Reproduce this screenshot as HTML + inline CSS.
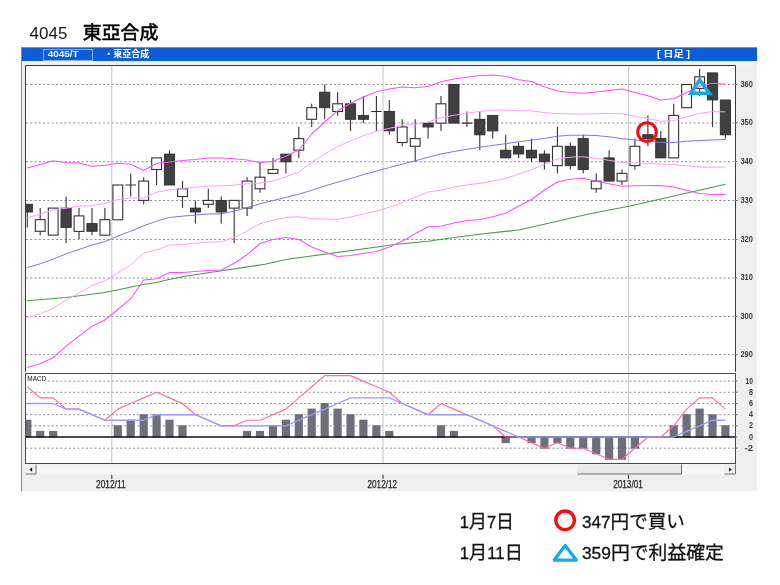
<!DOCTYPE html>
<html lang="ja"><head><meta charset="utf-8"><title>4045 東亞合成</title>
<style>html,body{margin:0;padding:0;background:#fff}body{width:780px;height:585px;position:relative;overflow:hidden}</style></head>
<body>
<svg width="780" height="585" viewBox="0 0 780 585" style="position:absolute;left:0;top:0">
<rect x="21" y="47" width="736" height="444.4" fill="#efefef"/>
<rect x="21" y="47" width="736" height="1" fill="#8a8a8a"/>
<rect x="21" y="47" width="1" height="444.4" fill="#8a8a8a"/>
<rect x="22" y="48" width="735" height="13" fill="#0b5ed7"/>
<rect x="22" y="61" width="735" height="3.6" fill="#f5f5f5"/>
<rect x="43.5" y="49.5" width="49" height="11" fill="none" stroke="#86b0ef" stroke-width="1"/>
<rect x="25" y="65" width="711" height="308" fill="#fff"/>
<path d="M25.5 371.8 V65.5 H735.5 V371.8" fill="none" stroke="#3a3a3a" stroke-width="1"/>
<rect x="25.5" y="373.5" width="710" height="90" fill="#fff" stroke="#4a4a4a" stroke-width="1"/>
<line x1="26" x2="735" y1="354.6" y2="354.6" stroke="#909090" stroke-width="1" stroke-dasharray="2.05 2.23"/>
<line x1="735" x2="737.6" y1="354.6" y2="354.6" stroke="#6a6a6a" stroke-width="1"/>
<line x1="26" x2="735" y1="316.5" y2="316.5" stroke="#909090" stroke-width="1" stroke-dasharray="2.05 2.23"/>
<line x1="735" x2="737.6" y1="316.5" y2="316.5" stroke="#6a6a6a" stroke-width="1"/>
<line x1="26" x2="735" y1="278.0" y2="278.0" stroke="#909090" stroke-width="1" stroke-dasharray="2.05 2.23"/>
<line x1="735" x2="737.6" y1="278.0" y2="278.0" stroke="#6a6a6a" stroke-width="1"/>
<line x1="26" x2="735" y1="239.5" y2="239.5" stroke="#909090" stroke-width="1" stroke-dasharray="2.05 2.23"/>
<line x1="735" x2="737.6" y1="239.5" y2="239.5" stroke="#6a6a6a" stroke-width="1"/>
<line x1="26" x2="735" y1="200.5" y2="200.5" stroke="#909090" stroke-width="1" stroke-dasharray="2.05 2.23"/>
<line x1="735" x2="737.6" y1="200.5" y2="200.5" stroke="#6a6a6a" stroke-width="1"/>
<line x1="26" x2="735" y1="161.7" y2="161.7" stroke="#909090" stroke-width="1" stroke-dasharray="2.05 2.23"/>
<line x1="735" x2="737.6" y1="161.7" y2="161.7" stroke="#6a6a6a" stroke-width="1"/>
<line x1="26" x2="735" y1="123.0" y2="123.0" stroke="#909090" stroke-width="1" stroke-dasharray="2.05 2.23"/>
<line x1="735" x2="737.6" y1="123.0" y2="123.0" stroke="#6a6a6a" stroke-width="1"/>
<line x1="26" x2="735" y1="84.5" y2="84.5" stroke="#909090" stroke-width="1" stroke-dasharray="2.05 2.23"/>
<line x1="735" x2="737.6" y1="84.5" y2="84.5" stroke="#6a6a6a" stroke-width="1"/>
<line x1="47.5" x2="735" y1="381.1" y2="381.1" stroke="#909090" stroke-width="1" stroke-dasharray="2.05 2.23"/>
<line x1="26" x2="735" y1="392.3" y2="392.3" stroke="#909090" stroke-width="1" stroke-dasharray="2.05 2.23"/>
<line x1="26" x2="735" y1="403.5" y2="403.5" stroke="#909090" stroke-width="1" stroke-dasharray="2.05 2.23"/>
<line x1="26" x2="735" y1="414.7" y2="414.7" stroke="#909090" stroke-width="1" stroke-dasharray="2.05 2.23"/>
<line x1="26" x2="735" y1="425.8" y2="425.8" stroke="#909090" stroke-width="1" stroke-dasharray="2.05 2.23"/>
<line x1="26" x2="735" y1="448.2" y2="448.2" stroke="#909090" stroke-width="1" stroke-dasharray="2.05 2.23"/>
<line x1="735" x2="737.6" y1="381.1" y2="381.1" stroke="#6a6a6a" stroke-width="1"/>
<line x1="735" x2="737.6" y1="392.3" y2="392.3" stroke="#6a6a6a" stroke-width="1"/>
<line x1="735" x2="737.6" y1="403.5" y2="403.5" stroke="#6a6a6a" stroke-width="1"/>
<line x1="735" x2="737.6" y1="414.7" y2="414.7" stroke="#6a6a6a" stroke-width="1"/>
<line x1="735" x2="737.6" y1="425.8" y2="425.8" stroke="#6a6a6a" stroke-width="1"/>
<line x1="735" x2="737.6" y1="437.0" y2="437.0" stroke="#6a6a6a" stroke-width="1"/>
<line x1="735" x2="737.6" y1="448.2" y2="448.2" stroke="#6a6a6a" stroke-width="1"/>
<line x1="111.8" x2="111.8" y1="66" y2="372" stroke="#c4c4c4" stroke-width="1"/>
<line x1="111.8" x2="111.8" y1="374" y2="463" stroke="#c4c4c4" stroke-width="1"/>
<line x1="111.8" x2="111.8" y1="474.6" y2="478.8" stroke="#222" stroke-width="1"/>
<line x1="383" x2="383" y1="66" y2="372" stroke="#c4c4c4" stroke-width="1"/>
<line x1="383" x2="383" y1="374" y2="463" stroke="#c4c4c4" stroke-width="1"/>
<line x1="383" x2="383" y1="474.6" y2="478.8" stroke="#222" stroke-width="1"/>
<line x1="628.6" x2="628.6" y1="66" y2="372" stroke="#c4c4c4" stroke-width="1"/>
<line x1="628.6" x2="628.6" y1="374" y2="463" stroke="#c4c4c4" stroke-width="1"/>
<line x1="628.6" x2="628.6" y1="474.6" y2="478.8" stroke="#222" stroke-width="1"/>
<g clip-path="url(#cm)">
<defs><clipPath id="cm"><rect x="26" y="66" width="709" height="304.5"/></clipPath></defs>
<line x1="27.3" x2="27.3" y1="204.3" y2="227.5" stroke="#333" stroke-width="1.1"/>
<rect x="22.2" y="204.3" width="10.2" height="7.7" fill="#404040" stroke="#2c2c2c" stroke-width="0.9"/>
<line x1="40.2" x2="40.2" y1="208.1" y2="235.2" stroke="#333" stroke-width="1.1"/>
<rect x="35.3" y="219.7" width="9.8" height="11.6" fill="#fff" stroke="#333" stroke-width="1.1"/>
<line x1="53.2" x2="53.2" y1="208.1" y2="235.2" stroke="#333" stroke-width="1.1"/>
<rect x="48.3" y="208.1" width="9.8" height="27.0" fill="#fff" stroke="#333" stroke-width="1.1"/>
<line x1="66.1" x2="66.1" y1="196.6" y2="242.9" stroke="#333" stroke-width="1.1"/>
<rect x="61.0" y="208.1" width="10.2" height="19.3" fill="#404040" stroke="#2c2c2c" stroke-width="0.9"/>
<line x1="79.0" x2="79.0" y1="208.1" y2="239.1" stroke="#333" stroke-width="1.1"/>
<rect x="74.1" y="215.9" width="9.8" height="15.5" fill="#fff" stroke="#333" stroke-width="1.1"/>
<line x1="92.0" x2="92.0" y1="208.1" y2="235.2" stroke="#333" stroke-width="1.1"/>
<rect x="86.9" y="223.6" width="10.2" height="7.7" fill="#404040" stroke="#2c2c2c" stroke-width="0.9"/>
<line x1="104.9" x2="104.9" y1="208.1" y2="235.2" stroke="#333" stroke-width="1.1"/>
<rect x="100.0" y="219.7" width="9.8" height="15.5" fill="#fff" stroke="#333" stroke-width="1.1"/>
<line x1="117.8" x2="117.8" y1="185.0" y2="219.7" stroke="#333" stroke-width="1.1"/>
<rect x="112.9" y="185.0" width="9.8" height="34.8" fill="#fff" stroke="#333" stroke-width="1.1"/>
<line x1="130.7" x2="130.7" y1="173.4" y2="196.6" stroke="#333" stroke-width="1.1"/>
<line x1="125.4" x2="136.0" y1="185.0" y2="185.0" stroke="#333" stroke-width="1.1"/>
<line x1="143.7" x2="143.7" y1="177.2" y2="204.3" stroke="#333" stroke-width="1.1"/>
<rect x="138.8" y="181.1" width="9.8" height="19.3" fill="#fff" stroke="#333" stroke-width="1.1"/>
<line x1="156.6" x2="156.6" y1="157.9" y2="185.0" stroke="#333" stroke-width="1.1"/>
<rect x="151.7" y="157.9" width="9.8" height="11.6" fill="#fff" stroke="#333" stroke-width="1.1"/>
<line x1="169.5" x2="169.5" y1="150.2" y2="185.0" stroke="#333" stroke-width="1.1"/>
<rect x="164.4" y="154.1" width="10.2" height="30.9" fill="#404040" stroke="#2c2c2c" stroke-width="0.9"/>
<line x1="182.5" x2="182.5" y1="181.1" y2="208.1" stroke="#333" stroke-width="1.1"/>
<rect x="177.6" y="188.8" width="9.8" height="7.7" fill="#fff" stroke="#333" stroke-width="1.1"/>
<line x1="195.4" x2="195.4" y1="200.4" y2="223.6" stroke="#333" stroke-width="1.1"/>
<rect x="190.3" y="208.1" width="10.2" height="3.9" fill="#404040" stroke="#2c2c2c" stroke-width="0.9"/>
<line x1="208.3" x2="208.3" y1="188.8" y2="208.1" stroke="#333" stroke-width="1.1"/>
<rect x="203.4" y="200.4" width="9.8" height="3.9" fill="#fff" stroke="#333" stroke-width="1.1"/>
<line x1="221.2" x2="221.2" y1="196.6" y2="223.6" stroke="#333" stroke-width="1.1"/>
<rect x="216.1" y="200.4" width="10.2" height="11.6" fill="#404040" stroke="#2c2c2c" stroke-width="0.9"/>
<line x1="234.2" x2="234.2" y1="200.4" y2="242.9" stroke="#333" stroke-width="1.1"/>
<rect x="229.3" y="200.4" width="9.8" height="7.7" fill="#fff" stroke="#333" stroke-width="1.1"/>
<line x1="247.1" x2="247.1" y1="177.2" y2="215.9" stroke="#333" stroke-width="1.1"/>
<rect x="242.2" y="181.1" width="9.8" height="27.0" fill="#fff" stroke="#333" stroke-width="1.1"/>
<line x1="260.0" x2="260.0" y1="161.8" y2="192.7" stroke="#333" stroke-width="1.1"/>
<rect x="255.1" y="177.2" width="9.8" height="11.6" fill="#fff" stroke="#333" stroke-width="1.1"/>
<line x1="273.0" x2="273.0" y1="157.9" y2="173.4" stroke="#333" stroke-width="1.1"/>
<rect x="268.1" y="169.5" width="9.8" height="3.9" fill="#fff" stroke="#333" stroke-width="1.1"/>
<line x1="285.9" x2="285.9" y1="154.1" y2="173.4" stroke="#333" stroke-width="1.1"/>
<rect x="280.8" y="154.1" width="10.2" height="7.7" fill="#404040" stroke="#2c2c2c" stroke-width="0.9"/>
<line x1="298.8" x2="298.8" y1="127.0" y2="157.9" stroke="#333" stroke-width="1.1"/>
<rect x="293.9" y="138.6" width="9.8" height="11.6" fill="#fff" stroke="#333" stroke-width="1.1"/>
<line x1="311.7" x2="311.7" y1="103.8" y2="127.0" stroke="#333" stroke-width="1.1"/>
<rect x="306.8" y="107.7" width="9.8" height="11.6" fill="#fff" stroke="#333" stroke-width="1.1"/>
<line x1="324.7" x2="324.7" y1="84.5" y2="119.3" stroke="#333" stroke-width="1.1"/>
<rect x="319.6" y="92.2" width="10.2" height="15.5" fill="#404040" stroke="#2c2c2c" stroke-width="0.9"/>
<line x1="337.6" x2="337.6" y1="92.2" y2="115.4" stroke="#333" stroke-width="1.1"/>
<rect x="332.7" y="103.8" width="9.8" height="7.7" fill="#fff" stroke="#333" stroke-width="1.1"/>
<line x1="350.5" x2="350.5" y1="100.0" y2="130.9" stroke="#333" stroke-width="1.1"/>
<rect x="345.4" y="103.8" width="10.2" height="15.5" fill="#404040" stroke="#2c2c2c" stroke-width="0.9"/>
<line x1="363.4" x2="363.4" y1="96.1" y2="123.1" stroke="#333" stroke-width="1.1"/>
<rect x="358.3" y="115.4" width="10.2" height="3.9" fill="#404040" stroke="#2c2c2c" stroke-width="0.9"/>
<line x1="376.4" x2="376.4" y1="96.1" y2="130.9" stroke="#333" stroke-width="1.1"/>
<line x1="371.1" x2="381.7" y1="111.5" y2="111.5" stroke="#333" stroke-width="1.1"/>
<line x1="389.3" x2="389.3" y1="100.0" y2="134.7" stroke="#333" stroke-width="1.1"/>
<rect x="384.2" y="111.5" width="10.2" height="19.3" fill="#404040" stroke="#2c2c2c" stroke-width="0.9"/>
<line x1="402.2" x2="402.2" y1="119.3" y2="146.3" stroke="#333" stroke-width="1.1"/>
<rect x="397.3" y="127.0" width="9.8" height="15.5" fill="#fff" stroke="#333" stroke-width="1.1"/>
<line x1="415.2" x2="415.2" y1="119.3" y2="161.8" stroke="#333" stroke-width="1.1"/>
<rect x="410.3" y="138.6" width="9.8" height="7.7" fill="#fff" stroke="#333" stroke-width="1.1"/>
<line x1="428.1" x2="428.1" y1="123.1" y2="138.6" stroke="#333" stroke-width="1.1"/>
<rect x="423.0" y="123.1" width="10.2" height="3.9" fill="#404040" stroke="#2c2c2c" stroke-width="0.9"/>
<line x1="441.0" x2="441.0" y1="96.1" y2="130.9" stroke="#333" stroke-width="1.1"/>
<rect x="436.1" y="103.8" width="9.8" height="19.3" fill="#fff" stroke="#333" stroke-width="1.1"/>
<line x1="453.9" x2="453.9" y1="84.5" y2="123.1" stroke="#333" stroke-width="1.1"/>
<rect x="448.8" y="84.5" width="10.2" height="38.6" fill="#404040" stroke="#2c2c2c" stroke-width="0.9"/>
<line x1="466.9" x2="466.9" y1="111.5" y2="127.0" stroke="#333" stroke-width="1.1"/>
<line x1="461.6" x2="472.2" y1="123.1" y2="123.1" stroke="#333" stroke-width="1.1"/>
<line x1="479.8" x2="479.8" y1="111.5" y2="150.2" stroke="#333" stroke-width="1.1"/>
<rect x="474.7" y="119.3" width="10.2" height="15.5" fill="#404040" stroke="#2c2c2c" stroke-width="0.9"/>
<line x1="492.7" x2="492.7" y1="115.4" y2="138.6" stroke="#333" stroke-width="1.1"/>
<rect x="487.6" y="115.4" width="10.2" height="15.5" fill="#404040" stroke="#2c2c2c" stroke-width="0.9"/>
<line x1="505.7" x2="505.7" y1="134.7" y2="157.9" stroke="#333" stroke-width="1.1"/>
<rect x="500.6" y="150.2" width="10.2" height="7.7" fill="#404040" stroke="#2c2c2c" stroke-width="0.9"/>
<line x1="518.6" x2="518.6" y1="142.5" y2="157.9" stroke="#333" stroke-width="1.1"/>
<rect x="513.5" y="146.3" width="10.2" height="7.7" fill="#404040" stroke="#2c2c2c" stroke-width="0.9"/>
<line x1="531.5" x2="531.5" y1="138.6" y2="161.8" stroke="#333" stroke-width="1.1"/>
<rect x="526.4" y="150.2" width="10.2" height="7.7" fill="#404040" stroke="#2c2c2c" stroke-width="0.9"/>
<line x1="544.4" x2="544.4" y1="150.2" y2="169.5" stroke="#333" stroke-width="1.1"/>
<rect x="539.3" y="154.1" width="10.2" height="7.7" fill="#404040" stroke="#2c2c2c" stroke-width="0.9"/>
<line x1="557.4" x2="557.4" y1="127.0" y2="173.4" stroke="#333" stroke-width="1.1"/>
<rect x="552.5" y="146.3" width="9.8" height="19.3" fill="#fff" stroke="#333" stroke-width="1.1"/>
<line x1="570.3" x2="570.3" y1="142.5" y2="169.5" stroke="#333" stroke-width="1.1"/>
<rect x="565.2" y="146.3" width="10.2" height="19.3" fill="#404040" stroke="#2c2c2c" stroke-width="0.9"/>
<line x1="583.2" x2="583.2" y1="134.7" y2="173.4" stroke="#333" stroke-width="1.1"/>
<rect x="578.1" y="138.6" width="10.2" height="30.9" fill="#404040" stroke="#2c2c2c" stroke-width="0.9"/>
<line x1="596.2" x2="596.2" y1="173.4" y2="192.7" stroke="#333" stroke-width="1.1"/>
<rect x="591.3" y="181.1" width="9.8" height="7.7" fill="#fff" stroke="#333" stroke-width="1.1"/>
<line x1="609.1" x2="609.1" y1="150.2" y2="181.1" stroke="#333" stroke-width="1.1"/>
<rect x="604.0" y="157.9" width="10.2" height="23.2" fill="#404040" stroke="#2c2c2c" stroke-width="0.9"/>
<line x1="622.0" x2="622.0" y1="169.5" y2="185.0" stroke="#333" stroke-width="1.1"/>
<rect x="617.1" y="173.4" width="9.8" height="7.7" fill="#fff" stroke="#333" stroke-width="1.1"/>
<line x1="634.9" x2="634.9" y1="138.6" y2="169.5" stroke="#333" stroke-width="1.1"/>
<rect x="630.0" y="146.3" width="9.8" height="19.3" fill="#fff" stroke="#333" stroke-width="1.1"/>
<line x1="647.9" x2="647.9" y1="115.4" y2="146.3" stroke="#333" stroke-width="1.1"/>
<rect x="642.8" y="134.7" width="10.2" height="3.9" fill="#404040" stroke="#2c2c2c" stroke-width="0.9"/>
<line x1="660.8" x2="660.8" y1="130.9" y2="157.9" stroke="#333" stroke-width="1.1"/>
<rect x="655.7" y="138.6" width="10.2" height="19.3" fill="#404040" stroke="#2c2c2c" stroke-width="0.9"/>
<line x1="673.7" x2="673.7" y1="103.8" y2="157.9" stroke="#333" stroke-width="1.1"/>
<rect x="668.8" y="115.4" width="9.8" height="42.5" fill="#fff" stroke="#333" stroke-width="1.1"/>
<line x1="686.6" x2="686.6" y1="84.5" y2="107.7" stroke="#333" stroke-width="1.1"/>
<rect x="681.7" y="84.5" width="9.8" height="23.2" fill="#fff" stroke="#333" stroke-width="1.1"/>
<line x1="699.6" x2="699.6" y1="69.0" y2="96.1" stroke="#333" stroke-width="1.1"/>
<rect x="694.7" y="76.8" width="9.8" height="11.6" fill="#fff" stroke="#333" stroke-width="1.1"/>
<line x1="712.5" x2="712.5" y1="72.9" y2="127.0" stroke="#333" stroke-width="1.1"/>
<rect x="707.4" y="72.9" width="10.2" height="27.0" fill="#404040" stroke="#2c2c2c" stroke-width="0.9"/>
<line x1="725.4" x2="725.4" y1="100.0" y2="138.6" stroke="#333" stroke-width="1.1"/>
<rect x="720.3" y="100.0" width="10.2" height="34.8" fill="#404040" stroke="#2c2c2c" stroke-width="0.9"/>
</g>
<polyline points="27.0,300.8 66.0,297.5 105.0,292.5 143.5,284.5 156.5,282.5 169.0,279.5 182.0,276.8 208.0,272.7 265.0,264.3 287.5,259.3 395.0,244.5 428.0,241.2 453.8,237.5 479.5,234.2 518.5,230.0 544.2,224.2 570.0,218.2 590.0,213.8 630.0,206.0 725.5,184.2" fill="none" stroke="#479d47" stroke-width="1.15" stroke-linejoin="round" />
<polyline points="27.3,217.8 40.2,214.2 53.2,210.0 66.1,208.2 79.0,206.2 92.0,205.7 104.9,203.5 117.8,199.6 130.7,197.8 143.7,198.1 156.6,192.2 169.5,189.8 182.5,188.4 195.4,187.2 208.3,186.0 221.2,185.9 234.2,185.0 247.1,183.8 260.0,183.2 273.0,180.9 285.9,176.8 298.8,172.1 311.7,162.2 324.7,154.0 337.6,146.5 350.5,141.0 363.4,135.8 376.4,131.3 389.3,128.3 402.2,125.6 415.2,124.3 428.1,121.9 441.0,117.8 453.9,115.3 466.9,113.2 479.8,111.4 492.7,110.2 505.7,110.0 518.6,110.8 531.5,110.8 544.4,112.6 557.4,113.6 570.3,113.9 583.2,114.2 596.2,113.7 609.1,113.6 622.0,113.8 634.9,116.2 647.9,118.5 660.8,121.2 673.7,120.6 686.6,116.9 699.6,113.4 712.5,111.6 725.4,111.9" fill="none" stroke="#ff9cff" stroke-width="1.0" stroke-linejoin="round" />
<polyline points="27.3,317.5 40.2,313.8 53.2,308.4 66.1,300.0 79.0,292.9 92.0,285.6 104.9,280.9 117.8,272.8 130.7,265.0 143.7,252.9 156.6,250.0 169.5,245.0 182.5,244.4 195.4,243.2 208.3,242.2 221.2,241.9 234.2,237.3 247.1,231.1 260.0,223.7 273.0,220.1 285.9,217.4 298.8,216.8 311.7,218.7 324.7,219.0 337.6,219.3 350.5,217.0 363.4,214.1 376.4,211.2 389.3,207.3 402.2,202.7 415.2,197.3 428.1,192.0 441.0,190.1 453.9,187.2 466.9,184.9 479.8,183.4 492.7,181.1 505.7,178.5 518.6,174.0 531.5,169.8 544.4,164.2 557.4,159.1 570.3,157.2 583.2,156.8 596.2,158.4 609.1,160.3 622.0,162.5 634.9,162.9 647.9,163.4 660.8,164.1 673.7,164.7 686.6,165.8 699.6,167.1 712.5,167.2 725.4,167.0" fill="none" stroke="#ff9cff" stroke-width="1.0" stroke-linejoin="round" />
<polyline points="27.3,168.0 40.2,164.5 53.2,160.8 66.1,162.5 79.0,163.0 92.0,166.3 104.9,165.3 117.8,163.2 130.7,164.2 143.7,170.5 156.6,163.2 169.5,162.0 182.5,160.5 195.4,159.5 208.3,158.0 221.2,158.0 234.2,158.8 247.1,160.0 260.0,162.5 273.0,161.2 285.9,156.2 298.8,150.0 311.7,134.0 324.7,122.0 337.6,110.8 350.5,103.5 363.4,97.0 376.4,91.7 389.3,89.1 402.2,87.0 415.2,87.8 428.1,86.6 441.0,81.7 453.9,79.1 466.9,77.2 479.8,75.5 492.7,75.0 505.7,76.3 518.6,79.7 531.5,81.4 544.4,86.8 557.4,91.0 570.3,92.6 583.2,93.2 596.2,91.9 609.1,90.4 622.0,89.0 634.9,92.5 647.9,95.8 660.8,100.0 673.7,98.8 686.6,92.5 699.6,86.2 712.5,83.2 725.4,84.2" fill="none" stroke="#ff4cff" stroke-width="1.05" stroke-linejoin="round" />
<polyline points="27.3,367.5 40.2,363.8 53.2,357.5 66.1,346.2 79.0,336.2 92.0,326.2 104.9,320.0 117.8,309.5 130.7,298.8 143.7,280.0 156.6,278.8 169.5,272.5 182.5,272.5 195.4,271.5 208.3,270.5 221.2,270.0 234.2,263.3 247.1,254.7 260.0,243.5 273.0,239.5 285.9,237.5 298.8,239.5 311.7,247.0 324.7,252.0 337.6,256.5 350.5,255.5 363.4,253.5 376.4,251.5 389.3,247.0 402.2,241.2 415.2,233.8 428.1,226.8 441.0,226.2 453.9,223.0 466.9,220.5 479.8,219.5 492.7,216.8 505.7,213.2 518.6,206.2 531.5,199.5 544.4,190.0 557.4,182.0 570.3,179.2 583.2,178.2 596.2,181.2 609.1,183.8 622.0,186.2 634.9,185.8 647.9,185.6 660.8,185.6 673.7,186.9 686.6,190.3 699.6,193.6 712.5,194.5 725.4,194.5" fill="none" stroke="#ff4cff" stroke-width="1.05" stroke-linejoin="round" />
<polyline points="27.3,267.5 40.2,263.8 53.2,259.2 66.1,253.8 79.0,249.5 92.0,245.0 104.9,241.7 117.8,236.0 130.7,231.2 143.7,225.8 156.6,221.2 169.5,217.5 182.5,216.2 195.4,215.0 208.3,214.0 221.2,213.8 234.2,211.2 247.1,207.5 260.0,203.8 273.0,200.6 285.9,197.4 298.8,194.2 311.7,190.3 324.7,186.0 337.6,182.2 350.5,178.5 363.4,174.6 376.4,171.0 389.3,167.6 402.2,164.2 415.2,160.8 428.1,157.2 441.0,154.0 453.9,151.5 466.9,149.3 479.8,147.3 492.7,145.4 505.7,143.7 518.6,141.8 531.5,140.2 544.4,138.4 557.4,136.2 570.3,135.2 583.2,135.2 596.2,135.5 609.1,136.8 622.0,138.7 634.9,140.0 647.9,141.2 660.8,142.5 673.7,142.5 686.6,141.2 699.6,140.5 712.5,140.0 725.4,139.5" fill="none" stroke="#8274e4" stroke-width="1.0" stroke-linejoin="round" />
<g clip-path="url(#cd)">
<defs><clipPath id="cd"><rect x="26" y="374" width="709" height="89"/></clipPath></defs>
<rect x="23.2" y="419.7" width="8.2" height="17.8" fill="#6f6f7b"/>
<rect x="36.1" y="430.9" width="8.2" height="6.6" fill="#6f6f7b"/>
<rect x="49.1" y="430.9" width="8.2" height="6.6" fill="#6f6f7b"/>
<rect x="113.7" y="425.3" width="8.2" height="12.2" fill="#6f6f7b"/>
<rect x="126.6" y="419.7" width="8.2" height="17.8" fill="#6f6f7b"/>
<rect x="139.6" y="414.2" width="8.2" height="23.3" fill="#6f6f7b"/>
<rect x="152.5" y="414.2" width="8.2" height="23.3" fill="#6f6f7b"/>
<rect x="165.4" y="419.7" width="8.2" height="17.8" fill="#6f6f7b"/>
<rect x="178.4" y="425.3" width="8.2" height="12.2" fill="#6f6f7b"/>
<rect x="243.0" y="430.9" width="8.2" height="6.6" fill="#6f6f7b"/>
<rect x="255.9" y="430.9" width="8.2" height="6.6" fill="#6f6f7b"/>
<rect x="268.9" y="425.3" width="8.2" height="12.2" fill="#6f6f7b"/>
<rect x="281.8" y="419.7" width="8.2" height="17.8" fill="#6f6f7b"/>
<rect x="294.7" y="414.2" width="8.2" height="23.3" fill="#6f6f7b"/>
<rect x="307.6" y="408.6" width="8.2" height="28.9" fill="#6f6f7b"/>
<rect x="320.6" y="403.0" width="8.2" height="34.5" fill="#6f6f7b"/>
<rect x="333.5" y="408.6" width="8.2" height="28.9" fill="#6f6f7b"/>
<rect x="346.4" y="414.2" width="8.2" height="23.3" fill="#6f6f7b"/>
<rect x="359.3" y="419.7" width="8.2" height="17.8" fill="#6f6f7b"/>
<rect x="372.3" y="425.3" width="8.2" height="12.2" fill="#6f6f7b"/>
<rect x="385.2" y="430.9" width="8.2" height="6.6" fill="#6f6f7b"/>
<rect x="436.9" y="425.3" width="8.2" height="12.2" fill="#6f6f7b"/>
<rect x="449.8" y="430.9" width="8.2" height="6.6" fill="#6f6f7b"/>
<rect x="501.6" y="436.5" width="8.2" height="6.6" fill="#6f6f7b"/>
<rect x="527.4" y="436.5" width="8.2" height="6.6" fill="#6f6f7b"/>
<rect x="540.3" y="436.5" width="8.2" height="12.2" fill="#6f6f7b"/>
<rect x="553.3" y="436.5" width="8.2" height="6.6" fill="#6f6f7b"/>
<rect x="566.2" y="436.5" width="8.2" height="12.2" fill="#6f6f7b"/>
<rect x="579.1" y="436.5" width="8.2" height="12.2" fill="#6f6f7b"/>
<rect x="592.1" y="436.5" width="8.2" height="17.8" fill="#6f6f7b"/>
<rect x="605.0" y="436.5" width="8.2" height="23.3" fill="#6f6f7b"/>
<rect x="617.9" y="436.5" width="8.2" height="23.3" fill="#6f6f7b"/>
<rect x="630.8" y="436.5" width="8.2" height="12.2" fill="#6f6f7b"/>
<rect x="669.6" y="425.3" width="8.2" height="12.2" fill="#6f6f7b"/>
<rect x="682.5" y="414.2" width="8.2" height="23.3" fill="#6f6f7b"/>
<rect x="695.5" y="408.6" width="8.2" height="28.9" fill="#6f6f7b"/>
<rect x="708.4" y="414.2" width="8.2" height="23.3" fill="#6f6f7b"/>
<rect x="721.3" y="425.3" width="8.2" height="12.2" fill="#6f6f7b"/>
</g>
<line x1="26" x2="735" y1="437" y2="437" stroke="#111" stroke-width="1.3"/>
<polyline points="27.3,386.7 40.2,397.9 53.2,397.9 66.1,409.1 79.0,409.1 92.0,414.7 104.9,420.2 117.8,409.1 130.7,403.5 143.7,397.9 156.6,392.3 169.5,397.9 182.5,403.5 195.4,414.7 208.3,420.2 221.2,425.8 234.2,425.8 247.1,420.2 260.0,420.2 273.0,414.7 285.9,409.1 298.8,397.9 311.7,386.7 324.7,375.6 337.6,375.6 350.5,375.6 363.4,381.1 376.4,386.7 389.3,392.3 402.2,403.5 415.2,409.1 428.1,414.7 441.0,403.5 453.9,409.1 466.9,414.7 479.8,420.2 492.7,425.8 505.7,437.0 518.6,437.0 531.5,442.6 544.4,448.2 557.4,442.6 570.3,448.2 583.2,448.2 596.2,453.8 609.1,459.3 622.0,459.3 634.9,448.2 647.9,437.0 660.8,437.0 673.7,425.8 686.6,409.1 699.6,397.9 712.5,397.9 725.4,409.1" fill="none" stroke="#ff6aae" stroke-width="1.15" stroke-linejoin="round" />
<polyline points="27.3,403.5 40.2,403.5 53.2,403.5 66.1,409.1 79.0,409.1 92.0,414.7 104.9,420.2 117.8,420.2 130.7,420.2 143.7,420.2 156.6,414.7 169.5,414.7 182.5,414.7 195.4,414.7 208.3,420.2 221.2,425.8 234.2,425.8 247.1,425.8 260.0,425.8 273.0,425.8 285.9,425.8 298.8,420.2 311.7,414.7 324.7,409.1 337.6,403.5 350.5,397.9 363.4,397.9 376.4,397.9 389.3,397.9 402.2,403.5 415.2,409.1 428.1,414.7 441.0,414.7 453.9,414.7 466.9,414.7 479.8,420.2 492.7,425.8 505.7,431.4 518.6,437.0 531.5,437.0 544.4,437.0 557.4,437.0 570.3,437.0 583.2,437.0 596.2,437.0 609.1,437.0 622.0,437.0 634.9,437.0 647.9,437.0 660.8,437.0 673.7,437.0 686.6,431.4 699.6,425.8 712.5,420.2 725.4,420.2" fill="none" stroke="#9a9aff" stroke-width="1.35" stroke-linejoin="round" />
<rect x="25" y="464.5" width="711" height="10" fill="#f6f6f6"/>
<rect x="25" y="464.5" width="11.5" height="10" fill="#f0f0f0"/>
<path d="M25.5 474 H36 V464.5" fill="none" stroke="#6e6e6e" stroke-width="1"/>
<path d="M32.1 467.5 L29.4 469.6 L32.1 471.7 Z" fill="#111"/>
<rect x="724" y="464.5" width="12" height="10" fill="#f0f0f0"/>
<path d="M724.5 474 H735.5 V464.5" fill="none" stroke="#6e6e6e" stroke-width="1"/>
<path d="M729.1 467.5 L731.8 469.6 L729.1 471.7 Z" fill="#111"/>
<rect x="577.5" y="464.5" width="104" height="9.5" fill="#e9e9e9"/>
<path d="M577.5 474 H681.5 V464.5" fill="none" stroke="#6e6e6e" stroke-width="1"/>
<circle cx="647" cy="132" r="9.3" fill="none" stroke="#f80a12" stroke-width="3"/>
<path d="M699.7 79.9 L709.4 93.15 L691 93.15 Z" fill="none" stroke="#18a8ea" stroke-width="3.5" stroke-linejoin="miter"/>
<circle cx="565.1" cy="520.3" r="9.3" fill="none" stroke="#fb0a0e" stroke-width="3.4"/>
<path d="M565.2 545.4 L576.2 560.1 L554.2 560.1 Z" fill="none" stroke="#12aaee" stroke-width="3.3" stroke-linejoin="round"/>
<text x="47.8" y="56.8" font-size="9.5" fill="#fff" text-anchor="start" style="font-family:'Liberation Sans','Noto Sans CJK JP',sans-serif;font-weight:bold;" textLength="30.8" lengthAdjust="spacingAndGlyphs">4045/T</text>
<text x="104.3" y="57.2" font-size="9.2" fill="#fff" text-anchor="start" style="font-family:'Liberation Sans','Noto Sans CJK JP',sans-serif;font-weight:bold;" textLength="45" lengthAdjust="spacingAndGlyphs">・東亞合成</text>
<text x="657" y="57.4" font-size="8.6" fill="#fff" text-anchor="start" style="font-family:'Liberation Sans','Noto Sans CJK JP',sans-serif;font-weight:bold;" textLength="33" lengthAdjust="spacingAndGlyphs">[ 日足 ]</text>
<text x="740.4" y="356.8" font-size="9" fill="#3c3c3c" text-anchor="start" style="font-family:'Liberation Sans','Noto Sans CJK JP',sans-serif;font-weight:bold;" textLength="12.4" lengthAdjust="spacingAndGlyphs">290</text>
<text x="740.4" y="318.7" font-size="9" fill="#3c3c3c" text-anchor="start" style="font-family:'Liberation Sans','Noto Sans CJK JP',sans-serif;font-weight:bold;" textLength="12.4" lengthAdjust="spacingAndGlyphs">300</text>
<text x="740.4" y="280.2" font-size="9" fill="#3c3c3c" text-anchor="start" style="font-family:'Liberation Sans','Noto Sans CJK JP',sans-serif;font-weight:bold;" textLength="12.4" lengthAdjust="spacingAndGlyphs">310</text>
<text x="740.4" y="241.7" font-size="9" fill="#3c3c3c" text-anchor="start" style="font-family:'Liberation Sans','Noto Sans CJK JP',sans-serif;font-weight:bold;" textLength="12.4" lengthAdjust="spacingAndGlyphs">320</text>
<text x="740.4" y="202.7" font-size="9" fill="#3c3c3c" text-anchor="start" style="font-family:'Liberation Sans','Noto Sans CJK JP',sans-serif;font-weight:bold;" textLength="12.4" lengthAdjust="spacingAndGlyphs">330</text>
<text x="740.4" y="163.89999999999998" font-size="9" fill="#3c3c3c" text-anchor="start" style="font-family:'Liberation Sans','Noto Sans CJK JP',sans-serif;font-weight:bold;" textLength="12.4" lengthAdjust="spacingAndGlyphs">340</text>
<text x="740.4" y="125.2" font-size="9" fill="#3c3c3c" text-anchor="start" style="font-family:'Liberation Sans','Noto Sans CJK JP',sans-serif;font-weight:bold;" textLength="12.4" lengthAdjust="spacingAndGlyphs">350</text>
<text x="740.4" y="86.7" font-size="9" fill="#3c3c3c" text-anchor="start" style="font-family:'Liberation Sans','Noto Sans CJK JP',sans-serif;font-weight:bold;" textLength="12.4" lengthAdjust="spacingAndGlyphs">360</text>
<text x="753" y="383.6" font-size="9" fill="#3c3c3c" text-anchor="end" style="font-family:'Liberation Sans','Noto Sans CJK JP',sans-serif;font-weight:bold;" textLength="7.4" lengthAdjust="spacingAndGlyphs">10</text>
<text x="753" y="394.8" font-size="9" fill="#3c3c3c" text-anchor="end" style="font-family:'Liberation Sans','Noto Sans CJK JP',sans-serif;font-weight:bold;" textLength="4" lengthAdjust="spacingAndGlyphs">8</text>
<text x="753" y="406.0" font-size="9" fill="#3c3c3c" text-anchor="end" style="font-family:'Liberation Sans','Noto Sans CJK JP',sans-serif;font-weight:bold;" textLength="4" lengthAdjust="spacingAndGlyphs">6</text>
<text x="753" y="417.2" font-size="9" fill="#3c3c3c" text-anchor="end" style="font-family:'Liberation Sans','Noto Sans CJK JP',sans-serif;font-weight:bold;" textLength="4" lengthAdjust="spacingAndGlyphs">4</text>
<text x="753" y="428.3" font-size="9" fill="#3c3c3c" text-anchor="end" style="font-family:'Liberation Sans','Noto Sans CJK JP',sans-serif;font-weight:bold;" textLength="4" lengthAdjust="spacingAndGlyphs">2</text>
<text x="753" y="439.5" font-size="9" fill="#3c3c3c" text-anchor="end" style="font-family:'Liberation Sans','Noto Sans CJK JP',sans-serif;font-weight:bold;" textLength="4" lengthAdjust="spacingAndGlyphs">0</text>
<text x="753" y="450.7" font-size="9" fill="#3c3c3c" text-anchor="end" style="font-family:'Liberation Sans','Noto Sans CJK JP',sans-serif;font-weight:bold;" textLength="8.5" lengthAdjust="spacingAndGlyphs">-2</text>
<text x="27.3" y="381" font-size="6.6" fill="#111" text-anchor="start" style="font-family:'Liberation Sans',sans-serif;" textLength="19" lengthAdjust="spacingAndGlyphs">MACD</text>
<text x="96" y="487.7" font-size="10.4" fill="#1c1c1c" text-anchor="start" style="font-family:'Liberation Sans',sans-serif;stroke:#1c1c1c;stroke-width:0.25px;" textLength="29.6" lengthAdjust="spacingAndGlyphs">2012/11</text>
<text x="367.5" y="487.7" font-size="10.4" fill="#1c1c1c" text-anchor="start" style="font-family:'Liberation Sans',sans-serif;stroke:#1c1c1c;stroke-width:0.25px;" textLength="29.6" lengthAdjust="spacingAndGlyphs">2012/12</text>
<text x="613.2" y="487.7" font-size="10.4" fill="#1c1c1c" text-anchor="start" style="font-family:'Liberation Sans',sans-serif;stroke:#1c1c1c;stroke-width:0.25px;" textLength="29.6" lengthAdjust="spacingAndGlyphs">2013/01</text>
<text x="29.6" y="38.6" font-size="17" fill="#151515" text-anchor="start" style="font-family:'Liberation Sans','Noto Sans CJK JP',sans-serif;" textLength="37.8" lengthAdjust="spacingAndGlyphs">4045</text>
<text x="82.8" y="39" font-size="18.6" fill="#000" text-anchor="start" style="font-family:'Liberation Sans','Noto Sans CJK JP',sans-serif;stroke:#000;stroke-width:0.6px;" textLength="75.6" lengthAdjust="spacingAndGlyphs">東亞合成</text>
<text x="459.8" y="528.2" font-size="18.6" fill="#111" style="font-family:'Liberation Sans','Noto Sans CJK JP',sans-serif;stroke:#111;stroke-width:0.3px;" textLength="54.2" lengthAdjust="spacingAndGlyphs"><tspan font-size="17.2">1</tspan>月<tspan font-size="17.2">7</tspan>日</text>
<text x="459.8" y="559" font-size="18.6" fill="#111" style="font-family:'Liberation Sans','Noto Sans CJK JP',sans-serif;stroke:#111;stroke-width:0.3px;" textLength="63" lengthAdjust="spacingAndGlyphs"><tspan font-size="17.2">1</tspan>月<tspan font-size="17.2">11</tspan>日</text>
<text x="581.9" y="528.2" font-size="18.6" fill="#111" style="font-family:'Liberation Sans','Noto Sans CJK JP',sans-serif;stroke:#111;stroke-width:0.3px;" textLength="103" lengthAdjust="spacingAndGlyphs"><tspan font-size="17.2">347</tspan>円で買い</text>
<text x="581.9" y="559" font-size="18.6" fill="#111" style="font-family:'Liberation Sans','Noto Sans CJK JP',sans-serif;stroke:#111;stroke-width:0.3px;" textLength="142" lengthAdjust="spacingAndGlyphs"><tspan font-size="17.2">359</tspan>円で利益確定</text>
</svg>
</body></html>
